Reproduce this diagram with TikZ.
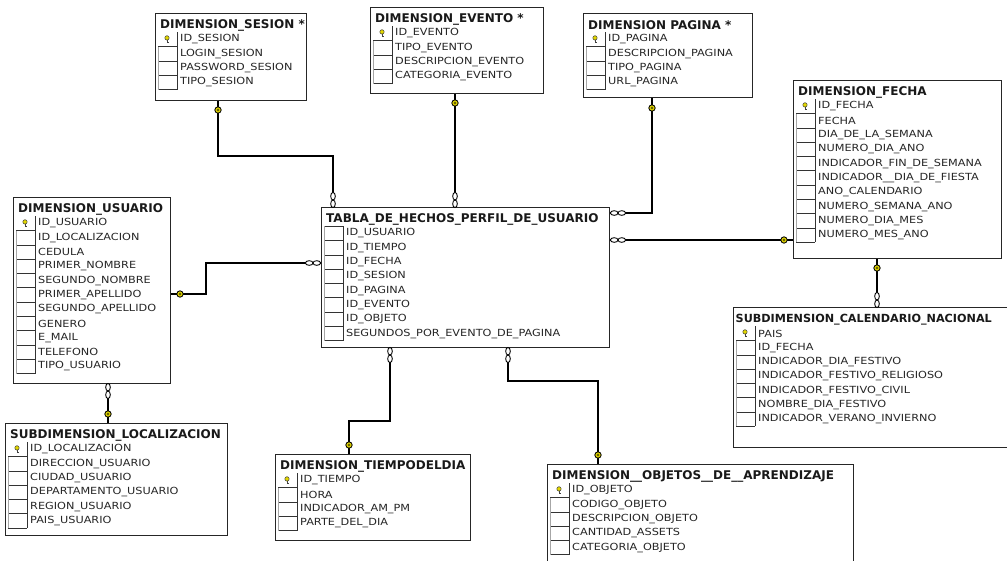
\documentclass[tikz,border=0pt]{standalone}
\usepackage{fontspec}
\setmainfont{DejaVu Sans}
\newfontfamily\rowfont[FakeStretch=1.15]{DejaVu Sans}
\newfontfamily\ttlfont{DejaVu Sans Bold}
\usetikzlibrary{calc}

\tikzset{
  tabbox/.style={draw=black!85, line width=1pt, fill=white, rectangle, inner sep=0pt, anchor=north west},
  ttl/.style={anchor=west, inner sep=0pt, font=\ttlfont\fontsize{12}{14}\selectfont, text=black!90},
  rowtxt/.style={anchor=west, inner sep=0pt, font=\rowfont\fontsize{9.8}{12}\selectfont, text=black!85},
  cellline/.style={draw=black!80, line width=0.9pt},
  faintline/.style={draw=black!35, line width=0.7pt},
  conn/.style={draw=black, line width=1.3pt},
  rowkey/.pic={
    \draw[fill=yellow!75!olive, draw=black!75, line width=0.5pt] (0,-1.6) circle (2.2);
    \draw[draw=black!75, line width=0.8pt] (0,0.6) -- (0,3.8) (0,2.6) -- (1.5,2.6);
  },
  ckey/.pic={
    \draw[fill=yellow!60!olive, draw=black, line width=0.8pt] (0,0) circle (3.2);
    \fill[black] (0,0) circle (0.9);
  },
  infh/.pic={
    \draw[line width=0.9pt, fill=white] (-3.8,0) ellipse (3.8 and 2.3) (3.8,0) ellipse (3.8 and 2.3);
  },
  infv/.pic={
    \draw[line width=0.9pt, fill=white] (0,-3.8) ellipse (2.3 and 3.8) (0,3.8) ellipse (2.3 and 3.8);
  }
}

% #1 name, #2 x, #3 top y, #4 width, #5 height, #6 rows, #7 title, #8 row list, #9 key (1/0)
\newcommand{\dbtab}[9]{%
  \node[tabbox, minimum width=#4pt, minimum height=#5pt] (#1) at (#2,#3) {};
  \node[ttl] (#1-t) at (#2+5,#3+12.5) {#7};
  \foreach \r [count=\i] in {#8} {
    \pgfmathsetmacro{\yy}{#3+26.5+(\i-1)*14.3}
    \node[rowtxt] (#1-r\i) at (#2+25,\yy) {\r};
    \draw[cellline] (#2+3,\yy+7.15) -- (#2+22,\yy+7.15);
  }
  \draw[cellline] (#2+22,#3+19.35) -- (#2+22,#3+19.35+#6*14.3);
  \draw[faintline] (#2+3,#3+19.35+14.3) -- (#2+3,#3+19.35+#6*14.3);
  \ifnum#9=1
    \pic at (#2+12,#3+26.5) {rowkey};
  \else
    \draw[cellline] (#2+3,#3+19.35) -- (#2+22,#3+19.35);
    \draw[faintline] (#2+3,#3+19.35) -- (#2+3,#3+19.35+14.3);
  \fi
}

\begin{document}
\begin{tikzpicture}[x=1pt,y=-1pt]
\useasboundingbox (0,0) rectangle (1007,560);
\clip (0,0) rectangle (1007,560);
\fill[white] (0,0) rectangle (1007,560);

\dbtab{ses}{155}{13}{151}{87}{4}{DIMENSION\_SESION *}{ID\_SESION,LOGIN\_SESION,PASSWORD\_SESION,TIPO\_SESION}{1}
\dbtab{evt}{370}{7}{173}{86}{4}{DIMENSION\_EVENTO *}{ID\_EVENTO,TIPO\_EVENTO,DESCRIPCION\_EVENTO,CATEGORIA\_EVENTO}{1}
\dbtab{pag}{583}{13}{169}{84}{4}{DIMENSION PAGINA *}{ID\_PAGINA,DESCRIPCION\_PAGINA,TIPO\_PAGINA,URL\_PAGINA}{1}
\dbtab{fec}{793}{80}{208}{178}{10}{DIMENSION\_FECHA}{ID\_FECHA,FECHA,DIA\_DE\_LA\_SEMANA,NUMERO\_DIA\_ANO,INDICADOR\_FIN\_DE\_SEMANA,INDICADOR\_\_DIA\_DE\_FIESTA,ANO\_CALENDARIO,NUMERO\_SEMANA\_ANO,NUMERO\_DIA\_MES,NUMERO\_MES\_ANO}{1}
\dbtab{usu}{13}{197}{157}{186}{11}{DIMENSION\_USUARIO}{ID\_USUARIO,ID\_LOCALIZACION,CEDULA,PRIMER\_NOMBRE,SEGUNDO\_NOMBRE,PRIMER\_APELLIDO,SEGUNDO\_APELLIDO,GENERO,E\_MAIL,TELEFONO,TIPO\_USUARIO}{1}
\dbtab{fact}{321}{207}{288}{140}{8}{TABLA\_DE\_HECHOS\_PERFIL\_DE\_USUARIO}{ID\_USUARIO,ID\_TIEMPO,ID\_FECHA,ID\_SESION,ID\_PAGINA,ID\_EVENTO,ID\_OBJETO,SEGUNDOS\_POR\_EVENTO\_DE\_PAGINA}{0}
\dbtab{loc}{5}{423}{222}{112}{6}{SUBDIMENSION\_LOCALIZACION}{ID\_LOCALIZACION,DIRECCION\_USUARIO,CIUDAD\_USUARIO,DEPARTAMENTO\_USUARIO,REGION\_USUARIO,PAIS\_USUARIO}{1}
\dbtab{tie}{275}{454}{195}{86}{4}{DIMENSION\_TIEMPODELDIA}{ID\_TIEMPO,HORA,INDICADOR\_AM\_PM,PARTE\_DEL\_DIA}{1}
\dbtab{obj}{547}{464}{306}{110}{5}{DIMENSION\_\_OBJETOS\_\_DE\_\_APRENDIZAJE}{ID\_OBJETO,CODIGO\_OBJETO,DESCRIPCION\_OBJETO,CANTIDAD\_ASSETS,CATEGORIA\_OBJETO}{1}
\dbtab{cal}{733}{307}{290}{140}{7}{\hspace*{-2.5pt}\fontsize{11.2}{13}\selectfont SUBDIMENSION\_CALENDARIO\_NACIONAL}{PAIS,ID\_FECHA,INDICADOR\_DIA\_FESTIVO,INDICADOR\_FESTIVO\_RELIGIOSO,INDICADOR\_FESTIVO\_CIVIL,NOMBRE\_DIA\_FESTIVO,INDICADOR\_VERANO\_INVIERNO}{1}

% connectors
\coordinate (a0) at ([xshift=63pt]ses.south west);
\draw[conn] (a0) -- ++(0,55) -| ([xshift=12pt]fact.north west);
\coordinate (b0) at ([xshift=85pt]evt.south west);
\draw[conn] (b0) -- (b0 |- fact.north);
\coordinate (c0) at ([xshift=69pt]pag.south west);
\draw[conn] (c0) |- ([yshift=-6pt]fact.north east);
\coordinate (d0) at ([yshift=-33pt]fact.north east);
\coordinate (d1) at (d0 -| fec.west);
\draw[conn] (d0) -- (d1);
\coordinate (e0) at ([yshift=-97pt]usu.north east);
\draw[conn] (e0) -- ++(35,0) |- ([yshift=-56pt]fact.north west);
\coordinate (f0) at ([xshift=95pt]usu.south west);
\coordinate (f1) at (f0 |- loc.north);
\draw[conn] (f0) -- (f1);
\coordinate (g0) at ([xshift=84pt]fec.south west);
\coordinate (g1) at (g0 |- cal.north);
\draw[conn] (g0) -- (g1);
\coordinate (h0) at ([xshift=69pt]fact.south west);
\coordinate (h1) at ([xshift=74pt]tie.north west);
\draw[conn] (h0) -- ++(0,73) -| (h1);
\coordinate (i0) at ([xshift=187pt]fact.south west);
\coordinate (i1) at ([xshift=51pt]obj.north west);
\draw[conn] (i0) -- ++(0,33) -| (i1);

% key ends
\pic at ([yshift=-9pt]a0) {ckey};
\pic at ([yshift=-9pt]b0) {ckey};
\pic at ([yshift=-10pt]c0) {ckey};
\pic at ([xshift=-9pt]d1) {ckey};
\pic at ([yshift=-9pt]g0) {ckey};
\pic at ([xshift=9pt]e0) {ckey};
\pic at ([yshift=9pt]f1) {ckey};
\pic at ([yshift=9pt]h1) {ckey};
\pic at ([yshift=9pt]i1) {ckey};

% many ends
\pic at ([xshift=12pt,yshift=7pt]fact.north west) {infv};
\pic at ([yshift=7pt]b0 |- fact.north) {infv};
\pic at ([xshift=8pt,yshift=-6pt]fact.north east) {infh};
\pic at ([xshift=8pt]d0) {infh};
\pic at ([xshift=-8pt,yshift=-56pt]fact.north west) {infh};
\pic at ([yshift=-7pt]h0) {infv};
\pic at ([yshift=-7pt]i0) {infv};
\pic at ([yshift=-7pt]f0) {infv};
\pic at ([yshift=7pt]g1) {infv};
\end{tikzpicture}
\end{document}
